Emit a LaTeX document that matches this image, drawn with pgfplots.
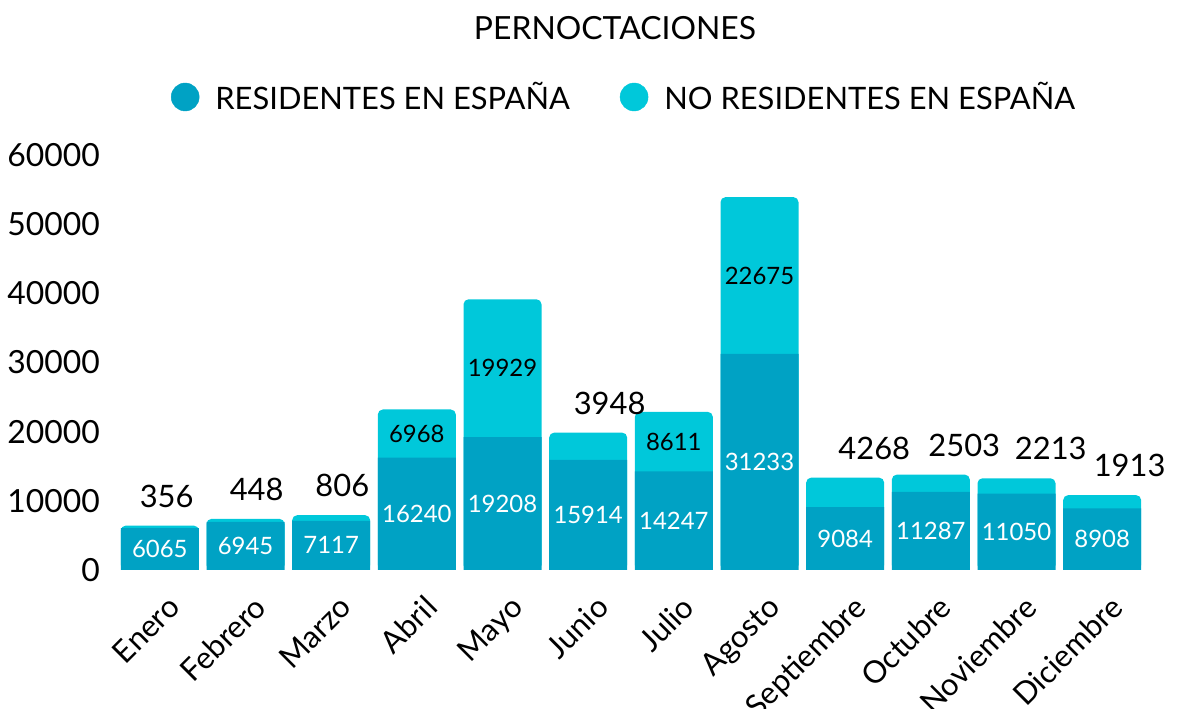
\documentclass[border=0pt]{standalone}
\usepackage{fontspec}
\setmainfont{Lato}
\usepackage{pgfplots}
\pgfplotsset{compat=1.18}
\definecolor{res}{RGB}{0,162,196}
\definecolor{nores}{RGB}{0,200,218}
\begin{document}
\begin{tikzpicture}
\path[use as bounding box] (0,0) rectangle (1187bp,709bp);
\begin{axis}[
  at={(117bp,139bp)}, anchor=south west,
  scale only axis, width=1028bp, height=415bp,
  xmin=-0.5, xmax=11.5, ymin=0, ymax=60000,
  ytick={0,10000,20000,30000,40000,50000,60000},
  scaled y ticks=false,
  /pgf/number format/1000 sep={},
  /pgf/number format/assume math mode=true,
  axis line style={draw=none},
  tick style={draw=none},
  major tick length=0pt,
  clip=false,
  yticklabel style={font=\fontsize{32}{38}\selectfont, anchor=east, inner sep=0pt, xshift=-17bp},
  xtick={0,1,2,3,4,5,6,7,8,9,10,11},
  xticklabels={Enero,Febrero,Marzo,Abril,Mayo,Junio,Julio,Agosto,Septiembre,Octubre,Noviembre,Diciembre},
  xticklabel style={font=\fontsize{31}{37}\selectfont, rotate=45, anchor=north east, inner sep=0pt, xshift=-12bp, yshift=-21bp},
  title={PERNOCTACIONES},
  title style={font=\fontsize{32}{38}\selectfont, at={(0.5,1)}, anchor=center, yshift=121bp, xshift=-16bp},
  legend columns=2,
  legend cell align=left,
  legend style={draw=none, fill=none, font=\fontsize{31}{37}\selectfont, at={(0.5,1)}, anchor=center, yshift=58bp, xshift=-7bp, /tikz/every even column/.append style={column sep=48bp}},
]
\addlegendimage{legend image code/.code={\fill[res] (14bp,0bp) circle (14bp); \path (42bp,0bp);}}
\addlegendentry{RESIDENTES EN ESPAÑA}
\addlegendimage{legend image code/.code={\fill[nores] (14bp,0bp) circle (14bp); \path (42bp,0bp);}}
\addlegendentry{NO RESIDENTES EN ESPAÑA}

% totals (residents + non residents)
\addplot[forget plot, ybar, bar width=78bp, bar shift=0pt, fill=nores, draw=none, rounded corners=5bp] coordinates {
(0,6421) (1,7393) (2,7923) (3,23208) (4,39137) (5,19862) (6,22858) (7,53908) (8,13352) (9,13790) (10,13263) (11,10821)};
% residents
\addplot[forget plot, ybar, bar width=78bp, bar shift=0pt, fill=res, draw=none] coordinates {
(0,6065) (1,6945) (2,7117) (3,16240) (4,19208) (5,15914) (6,14247) (7,31233) (8,9084) (9,11287) (10,11050) (11,8908)};

% residents labels
\addplot[forget plot, draw=none, nodes near coords, point meta=explicit symbolic,
  nodes near coords style={font=\fontsize{24}{28}\selectfont, text=white, anchor=center, inner sep=0pt}] coordinates {
(0,3032.5)[6065] (1,3472.5)[6945] (2,3558.5)[7117] (3,8120)[16240] (4,9604)[19208] (5,7957)[15914]
(6,7123.5)[14247] (7,15616.5)[31233] (8,4542)[9084] (9,5643.5)[11287] (10,5525)[11050] (11,4454)[8908]};

% non residents labels inside
\addplot[forget plot, draw=none, nodes near coords, point meta=explicit symbolic,
  nodes near coords style={font=\fontsize{24}{28}\selectfont, text=black, anchor=center, inner sep=0pt}] coordinates {
(3,19724)[6968] (4,29172.5)[19929] (6,18552.5)[8611] (7,42570.5)[22675]};

% non residents labels above
\addplot[forget plot, draw=none, nodes near coords, point meta=explicit symbolic,
  nodes near coords style={font=\fontsize{31}{36}\selectfont, text=black, anchor=base, inner sep=0pt, yshift=18.5bp}] coordinates {
(0.08,6421)[356] (1.13,7393)[448] (2.13,7923)[806] (5.25,19862)[3948] (8.34,13352)[4268] (9.39,13790)[2503] (10.40,13263)[2213] (11.32,10821)[1913]};
\end{axis}
\end{tikzpicture}
\end{document}
